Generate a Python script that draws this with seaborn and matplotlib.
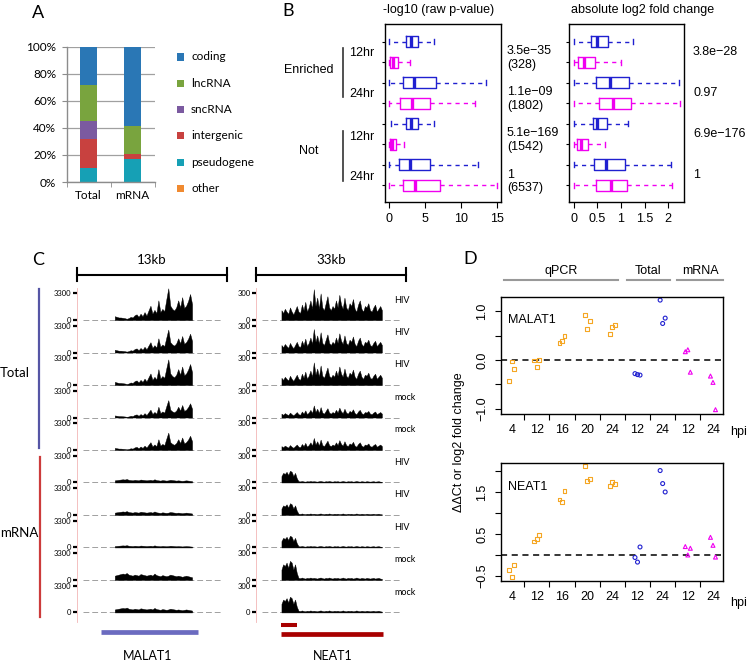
import numpy as np
import pandas as pd
import matplotlib
matplotlib.use('Agg')
import matplotlib.pyplot as plt
import matplotlib.transforms as mtrans
from matplotlib.lines import Line2D
from matplotlib.patches import Rectangle
import seaborn as sns

plt.rcParams['font.family'] = ['Liberation Sans', 'DejaVu Sans']
plt.rcParams['axes.linewidth'] = 1.0

W, H = 750, 664

# ---------------- data ----------------
# A: RNA type composition (%)
a_samples = ['Total', 'mRNA']
a_types = ['coding', 'lncRNA', 'sncRNA', 'intergenic', 'pseudogene', 'other']
a_colors = ['#2a77b5', '#79a43e', '#7b5aa0', '#c8413f', '#16a0b5', '#f08a30']
a_total = [28, 27, 13.5, 21, 10.5, 0]
a_mrna = [58.8, 20.7, 0, 3.2, 17.3, 0]

# B: box stats (min, q1, median, q3, max) per row
b_rows = ['E12_T', 'E12_M', 'E24_T', 'E24_M', 'N12_T', 'N12_M', 'N24_T', 'N24_M']
b_lib = ['Total', 'mRNA'] * 4
pval_stats = [[0, 2.34, 3.04, 3.97, 6.3],
              [0, 0.05, 0.5, 1.17, 2.9],
              [0, 1.87, 3.4, 6.55, 13.5],
              [0, 1.5, 3.2, 5.7, 11.9],
              [0.2, 2.3, 3.0, 4.0, 6.2],
              [0, 0.05, 0.4, 0.9, 2.0],
              [0, 1.3, 2.9, 5.7, 12.4],
              [0, 1.9, 3.6, 7.1, 15.0]]
fc_stats = [[0, 0.37, 0.5, 0.73, 1.26],
            [0, 0.08, 0.21, 0.46, 1.01],
            [0, 0.48, 0.76, 1.17, 2.23],
            [0, 0.53, 0.83, 1.22, 2.25],
            [0, 0.41, 0.5, 0.71, 1.14],
            [0, 0.07, 0.15, 0.3, 0.66],
            [0, 0.42, 0.69, 1.09, 2.06],
            [0, 0.48, 0.78, 1.12, 2.07]]
pval_text = ['3.5e\u221235', '1.1e\u221209', '5.1e\u2212169', '1']
gene_counts = ['(328)', '(1802)', '(1542)', '(6537)']
fc_text = ['3.8e\u221228', '0.97', '6.9e\u2212176', '1']

# C: coverage profiles (fraction of track max) and per-track scale
malat_span = [3.3, 10.0]          # kb
neat_span = [5.6, 27.7]
malat_total_prof = [0.12, 0.10, 0.08, 0.08, 0.07, 0.06, 0.04, 0.06, 0.10, 0.08,
                    0.15, 0.18, 0.10, 0.20, 0.12, 0.25, 0.14, 0.30, 0.45, 0.20,
                    0.32, 0.22, 0.62, 0.25, 0.35, 0.28, 0.65, 1.00, 0.45, 0.35,
                    0.30, 0.40, 0.62, 0.40, 0.72, 0.38, 0.45, 0.60, 0.82, 0.50]
malat_mrna_prof = [0.08, 0.09, 0.10, 0.11, 0.12, 0.11, 0.13, 0.10, 0.09, 0.08,
                   0.10, 0.09, 0.08, 0.11, 0.10, 0.09, 0.08, 0.09, 0.10, 0.08,
                   0.12, 0.09, 0.08, 0.07, 0.09, 0.08, 0.07, 0.08, 0.10, 0.09,
                   0.08, 0.07, 0.08, 0.07, 0.06, 0.07, 0.08, 0.07, 0.06, 0.05]
neat_total_prof = [0.35, 0.25, 0.40, 0.30, 0.22, 0.45, 0.30, 0.20, 0.35, 0.50,
                   0.30, 0.25, 0.55, 0.35, 0.65, 0.30, 0.45, 0.70, 0.40, 1.10,
                   0.50, 0.80, 0.40, 0.95, 0.45, 0.35, 0.60, 0.85, 0.45, 0.35,
                   0.50, 0.40, 0.70, 0.45, 0.90, 0.55, 0.40, 0.80, 0.45, 0.35,
                   0.60, 0.50, 0.75, 0.40, 0.30, 0.55, 0.70, 0.40, 0.30, 0.50,
                   0.45, 0.60, 0.35, 0.30, 0.45, 0.55, 0.30, 0.40, 0.50, 0.35]
neat_mrna_prof = [0.30, 0.45, 0.40, 0.50, 0.35, 0.55, 0.50, 0.30, 0.45, 0.20,
                  0.06, 0.05, 0.07, 0.05, 0.04, 0.06, 0.05, 0.07, 0.05, 0.06,
                  0.05, 0.04, 0.06, 0.07, 0.05, 0.04, 0.06, 0.05, 0.07, 0.05,
                  0.04, 0.06, 0.05, 0.06, 0.04, 0.05, 0.07, 0.05, 0.04, 0.06,
                  0.05, 0.06, 0.04, 0.05, 0.07, 0.05, 0.04, 0.06, 0.05, 0.04,
                  0.06, 0.05, 0.04, 0.05, 0.06, 0.04, 0.05, 0.06, 0.04, 0.03]
malat_scales = [1.19, 0.86, 0.96, 0.65, 0.65, 1.0, 1.1, 0.65, 2.0, 1.4]
neat_scales = [1.05, 0.80, 0.77, 0.41, 0.41, 0.80, 0.80, 0.80, 1.30, 1.07]
track_cond = ['HIV', 'HIV', 'HIV', 'mock', 'mock', 'HIV', 'HIV', 'HIV', 'mock', 'mock']
malat_gene = [2.1, 10.5]
neat_short = [5.6, 9.1]
neat_long = [5.6, 27.9]

# D: qPCR / RNA-seq fold changes, three replicates per group
d_groups = ['4', '12', '16', '20', '24', '12', '24', '12', '24']
d_assay = ['qPCR'] * 5 + ['Total'] * 2 + ['mRNA'] * 2
malat1_d = [[-0.43, -0.03, -0.18], [-0.01, -0.14, 0.0], [0.34, 0.39, 0.49],
            [0.92, 0.63, 0.80], [0.53, 0.68, 0.72], [-0.28, -0.30, -0.31],
            [1.23, 0.75, 0.86], [0.17, 0.21, -0.25], [-0.33, -0.46, -1.02]]
neat1_d = [[-0.36, -0.52, -0.25], [0.32, 0.39, 0.48], [1.32, 1.26, 1.52],
           [2.11, 1.77, 1.81], [1.65, 1.74, 1.68], [-0.06, -0.17, 0.19],
           [2.01, 1.70, 1.50], [0.20, 0.00, 0.16], [0.42, 0.23, -0.05]]
rep_offset = [-0.1, 0.0, 0.1]

BLUE = '#2020d0'
MAG = '#f000f0'
ORANGE = '#f5a623'

fig = plt.figure(figsize=(W / 100, H / 100), dpi=100)


def px_axes(x0, y0, x1, y1):
    return fig.add_axes([x0 / W, 1 - y1 / H, (x1 - x0) / W, (y1 - y0) / H])


def ftext(x, y, s, **kw):
    fig.text(x / W, 1 - y / H, s, **kw)


def fline(xs, ys, **kw):
    fig.add_artist(Line2D([x / W for x in xs], [1 - y / H for y in ys], **kw))


# ---------------- A ----------------
axA = px_axes(66.7, 46.7, 154.5, 182)
dfA = pd.DataFrame({'sample': np.repeat(a_samples, len(a_types)),
                    'type': a_types * 2,
                    'pct': a_total + a_mrna})
sns.histplot(data=dfA, x='sample', hue='type', weights='pct', multiple='stack',
             discrete=True, shrink=0.39, hue_order=a_types,
             palette=dict(zip(a_types, a_colors)), alpha=1, linewidth=0,
             legend=False, ax=axA)
axA.set_xlim(-0.5, 1.5)
axA.set_ylim(0, 100)
axA.set_yticks(range(0, 101, 20))
axA.set_yticklabels([f'{v}%' for v in range(0, 101, 20)], family='Lato', fontsize=8.5)
axA.set_xticks([0, 1])
axA.set_xticklabels(a_samples, family='Lato', fontsize=8.5)
axA.set_xticks([-0.5, 0.5, 1.5], minor=True)
axA.tick_params(axis='x', which='major', length=0, pad=6)
axA.tick_params(axis='x', which='minor', length=3.5, color='#8c8c8c')
axA.tick_params(axis='y', length=3.5, color='#8c8c8c', pad=4)
axA.yaxis.grid(True, color='#a0a0a0', lw=0.9)
axA.set_axisbelow(True)
for s in ['top', 'right']:
    axA.spines[s].set_visible(False)
for s in ['left', 'bottom']:
    axA.spines[s].set_color('#8c8c8c')
axA.set_xlabel('')
axA.set_ylabel('')
for i, (t, c) in enumerate(zip(a_types, a_colors)):
    yc = 57 + 26.3 * i
    fig.add_artist(Rectangle((177 / W, 1 - (yc + 3.5) / H), 7 / W, 7 / H,
                             transform=fig.transFigure, color=c, lw=0))
    ftext(191, yc, t, va='center', ha='left', fontsize=8.5, family='Lato')
ftext(32, 13, 'A', fontsize=13, va='center', family='Lato')

# ---------------- B ----------------
b_pal = {'Total': BLUE, 'mRNA': MAG}


def box_frame(stats):
    return pd.DataFrame([{'row': r, 'lib': l, 'value': v}
                         for r, l, st in zip(b_rows, b_lib, stats) for v in st])


axP = px_axes(385, 24.3, 501, 201.7)
axF = px_axes(569, 24.3, 684.3, 201.7)
for ax, stats in [(axP, pval_stats), (axF, fc_stats)]:
    sns.boxplot(data=box_frame(stats), x='value', y='row', hue='lib', order=b_rows,
                hue_order=['Total', 'mRNA'], palette=b_pal, orient='h', dodge=False,
                fill=False, width=0.52, whis=(0, 100), linewidth=1.0,
                medianprops={'linewidth': 2.4},
                whiskerprops={'linestyle': (0, (3, 3))},
                legend=False, ax=ax)
    ax.set_ylim(7.8, -0.85)
    ax.set_yticks(range(len(b_rows)))
    ax.set_yticklabels([])
    ax.tick_params(axis='y', length=2.5)
    ax.tick_params(axis='x', length=4, pad=4, labelsize=9)
    ax.set_xlabel('')
    ax.set_ylabel('')
    for s in ax.spines.values():
        s.set_visible(True)
        s.set_color('black')
axP.set_xlim(-0.6, 15.6)
axP.set_xticks([0, 5, 10, 15])
axF.set_xlim(-0.1, 2.34)
axF.set_xticks([0, 0.5, 1, 1.5, 2])
axF.set_xticklabels(['0', '0.5', '1', '1.5', '2'])

trP = mtrans.blended_transform_factory(fig.transFigure, axP.transData)
for g, (pt, n, ft) in enumerate(zip(pval_text, gene_counts, fc_text)):
    axP.text(507 / W, 2 * g + 0.8, pt + '\n' + n, transform=trP, fontsize=9,
             va='center', ha='left', linespacing=1.15)
    axP.text(693 / W, 2 * g + 0.5, ft, transform=trP, fontsize=9,
             va='center', ha='left')
ftext(439, 10, '-log10 (raw p-value)', ha='center', va='center', fontsize=9)
ftext(643, 10, 'absolute log2 fold change', ha='center', va='center', fontsize=9)
ftext(282, 11, 'B', fontsize=13, va='center', family='Lato')
for lab, yc, y0, y1, y12, y24 in [('Enriched', 70, 47.7, 97.3, 53, 94),
                                  ('Not', 150.7, 130.7, 180.7, 137, 177)]:
    ftext(309, yc, lab, ha='center', va='center', fontsize=9)
    fline([342.7, 342.7], [y0, y1], color='#333333', lw=1.2)
    ftext(349, y12, '12hr', ha='left', va='center', fontsize=9)
    ftext(349, y24, '24hr', ha='left', va='center', fontsize=9)

# ---------------- C ----------------
track_step = 1.217
axM = px_axes(76.7, 288, 226.7, 621.7)
axN = px_axes(256, 288, 406, 621.7)


def draw_tracks(ax, span, base_ext, tot_prof, mrna_prof, scales, top_label, xmax):
    ticks, labels = [], []
    for i, sc in enumerate(scales):
        prof = np.array(tot_prof if i < 5 else mrna_prof)
        x = np.linspace(span[0], span[1], len(prof))
        b = -i * track_step
        ax.plot(base_ext, [b, b], color='#a0a0a0', lw=0.7, ls=(0, (6, 3)), zorder=1)
        ax.fill_between(x, b, b + prof * sc, color='black', lw=0.3, zorder=2)
        ticks += [b, b + 1]
        labels += ['0', top_label]
    ax.set_xlim(0, xmax)
    ax.set_ylim(-11.3, 1.2)
    ax.set_yticks(ticks)
    ax.set_yticklabels(labels, family='Lato')
    ax.tick_params(axis='y', length=3, width=1.6, labelsize=5.5, pad=1)
    ax.set_xticks([])
    for s in ['top', 'right', 'bottom']:
        ax.spines[s].set_visible(False)
    ax.spines['left'].set_color('#f3b6b6')
    ax.spines['left'].set_linewidth(0.6)


draw_tracks(axM, malat_span, [0.55, 12.55], malat_total_prof, malat_mrna_prof,
            malat_scales, '3300', 13)
draw_tracks(axN, neat_span, [1.3, 32.0], neat_total_prof, neat_mrna_prof,
            neat_scales, '300', 33)

for ax, kb, name in [(axM, 13, '13kb'), (axN, 33, '33kb')]:
    tr = mtrans.blended_transform_factory(ax.transData, fig.transFigure)
    yb = 1 - 275 / H
    ax.plot([0, kb], [yb, yb], transform=tr, color='black', lw=1.5, clip_on=False)
    for xe in [0, kb]:
        ax.plot([xe, xe], [1 - 268 / H, 1 - 281 / H], transform=tr, color='black',
                lw=1.5, clip_on=False)
    ax.text(kb / 2, 1 - 260 / H, name, transform=tr, ha='center', va='center',
            fontsize=9.5, family='Lato')

trM = mtrans.blended_transform_factory(axM.transData, fig.transFigure)
trN = mtrans.blended_transform_factory(axN.transData, fig.transFigure)
axM.plot(malat_gene, [1 - 631.7 / H] * 2, transform=trM, color='#6b6bc0', lw=3.4,
         solid_capstyle='butt', clip_on=False)
axN.plot(neat_short, [1 - 625 / H] * 2, transform=trN, color='#a80000', lw=2.9,
         solid_capstyle='butt', clip_on=False)
axN.plot(neat_long, [1 - 634 / H] * 2, transform=trN, color='#a80000', lw=3.4,
         solid_capstyle='butt', clip_on=False)
ftext(148, 656, 'MALAT1', ha='center', va='center', fontsize=9, family='Lato')
ftext(333, 656, 'NEAT1', ha='center', va='center', fontsize=9, family='Lato')

for i, cond in enumerate(track_cond):
    axN.text(394 / W, -i * track_step + 0.75, cond,
             transform=mtrans.blended_transform_factory(fig.transFigure, axN.transData),
             ha='left', va='center', fontsize=6.5, family='Lato')

fline([39, 39], [289, 447.7], color='#5555a5', lw=1.6)
fline([40, 40], [457, 616.7], color='#cc3b3b', lw=1.6)
ftext(0, 373, 'Total', ha='left', va='center', fontsize=9.5, family='Lato')
ftext(0, 533, 'mRNA', ha='left', va='center', fontsize=9.5, family='Lato')
ftext(32, 260, 'C', fontsize=13, va='center', family='Lato')

# ---------------- D ----------------
d_pal = {'qPCR': ORANGE, 'Total': BLUE, 'mRNA': MAG}
d_mark = {'qPCR': 's', 'Total': 'o', 'mRNA': '^'}


def d_frame(vals):
    rows = []
    for g, (a, trip) in enumerate(zip(d_assay, vals), start=1):
        for off, v in zip(rep_offset, trip):
            rows.append({'pos': g + off, 'val': v, 'assay': a})
    return pd.DataFrame(rows)


axD1 = px_axes(501, 296.7, 723.3, 414.3)
axD2 = px_axes(501, 463, 723.3, 581)
for ax, vals, name, ylim, yt, ylab in [
        (axD1, malat1_d, 'MALAT1', (-1.115, 1.30), [-1, -0.5, 0, 0.5, 1],
         ['\u22121.0', '', '0.0', '', '1.0']),
        (axD2, neat1_d, 'NEAT1', (-0.62, 2.19), [-0.5, 0, 0.5, 1, 1.5, 2],
         ['\u22120.5', '', '0.5', '', '1.5', ''])]:
    sns.scatterplot(data=d_frame(vals), x='pos', y='val', hue='assay', style='assay',
                    palette=d_pal, markers=d_mark, s=8, linewidth=0.8,
                    legend=False, ax=ax)
    for coll in ax.collections:
        coll.set_edgecolors(coll.get_facecolors())
        coll.set_facecolors('none')
    ax.axhline(0, color='black', lw=1.1, ls=(0, (4, 3)), zorder=0)
    ax.set_xlim(0.575, 9.41)
    ax.set_ylim(*ylim)
    ax.set_xticks(np.arange(1.5, 9, 1))
    ax.set_xticklabels([])
    ax.set_xticks(range(1, 10), minor=True)
    ax.set_xticklabels(d_groups, minor=True)
    ax.tick_params(axis='x', which='major', length=4.3)
    ax.tick_params(axis='x', which='minor', length=0, pad=7, labelsize=9)
    ax.set_yticks(yt)
    ax.set_yticklabels(ylab, rotation=90, va='center')
    ax.tick_params(axis='y', length=4.3, pad=5, labelsize=9)
    ax.set_xlabel('')
    ax.set_ylabel('')
    ax.text(0.03, 0.80, name, transform=ax.transAxes, fontsize=9, va='center')

ftext(739, 431.7, 'hpi', ha='center', va='center', fontsize=9)
ftext(739, 602.7, 'hpi', ha='center', va='center', fontsize=9)
ftext(459, 442, '\u0394\u0394Ct or log2 fold change', rotation=90,
      ha='center', va='center', fontsize=9)
for lab, x0, x1 in [('qPCR', 504, 618), ('Total', 627, 670), ('mRNA', 677, 723)]:
    fline([x0, x1], [280, 280], color='#999999', lw=1.5)
    ftext((x0 + x1) / 2, 271, lab, ha='center', va='center', fontsize=9)
ftext(463, 259, 'D', fontsize=13, va='center', family='Lato')

fig.savefig('out.png', dpi=100)
